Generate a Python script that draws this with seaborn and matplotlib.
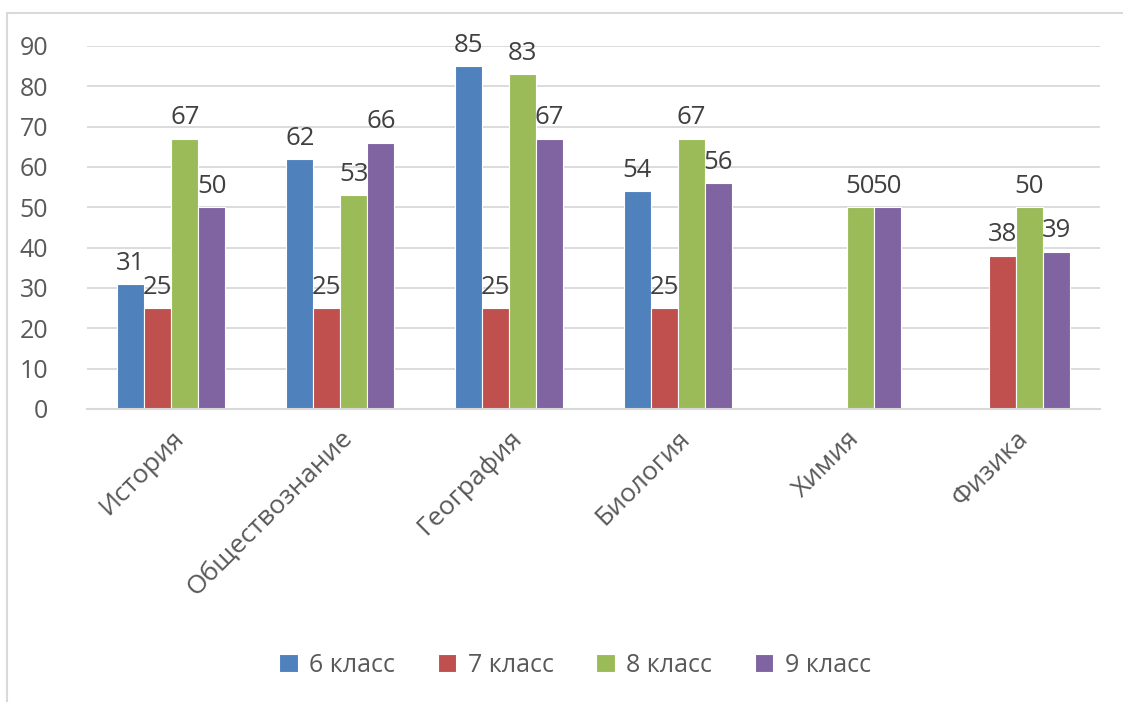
import numpy as np
import pandas as pd
import seaborn as sns
import matplotlib.pyplot as plt
from matplotlib.patches import Rectangle

subjects = ['История', 'Обществознание', 'География', 'Биология', 'Химия', 'Физика']
grades = ['6 класс', '7 класс', '8 класс', '9 класс']
grade6 = [31, 62, 85, 54, np.nan, np.nan]
grade7 = [25, 25, 25, 25, np.nan, 38]
grade8 = [67, 53, 83, 67, 50, 50]
grade9 = [50, 66, 67, 56, 50, 39]
colors = ['#4F81BD', '#C0504D', '#9BBB59', '#8064A2']

df = pd.DataFrame({'subject': subjects * 4,
                   'grade': np.repeat(grades, len(subjects)),
                   'value': grade6 + grade7 + grade8 + grade9})

sns.set_style('white')
plt.rcParams['font.family'] = ['Open Sans', 'DejaVu Sans']
text_color = '#595959'

fig = plt.figure(figsize=(11.23, 7.02), dpi=100)
ax = fig.add_axes([87 / 1123, 1 - 409 / 702, 1013 / 1123, 363 / 702])

sns.barplot(data=df, x='subject', y='value', hue='grade', order=subjects,
            hue_order=grades, palette=colors, width=0.64, saturation=1,
            edgecolor='white', linewidth=0.8, ax=ax)

for cont in ax.containers:
    ax.bar_label(cont, fmt='%g', padding=6, fontsize=18.5, color='#404040')

ax.set_ylim(0, 90)
ax.set_yticks(range(0, 91, 10))
ax.set_xlim(-0.5, len(subjects) - 0.5)
ax.yaxis.grid(True, color='#D9D9D9', linewidth=1.3)
ax.set_axisbelow(True)
for s in ['top', 'right', 'left']:
    ax.spines[s].set_visible(False)
ax.spines['bottom'].set_color('#D9D9D9')
ax.spines['bottom'].set_linewidth(1.5)
ax.set_xlabel('')
ax.set_ylabel('')
ax.tick_params(axis='y', labelsize=18, colors=text_color, length=0, pad=28)
ax.tick_params(axis='x', labelsize=19, colors=text_color, length=0, pad=12)
plt.setp(ax.get_xticklabels(), rotation=45, ha='right', rotation_mode='anchor')

ax.legend(loc='center', bbox_to_anchor=(575 / 1123, 37 / 702),
          bbox_transform=fig.transFigure, ncol=4, frameon=False,
          fontsize=18, labelcolor=text_color, handlelength=0.75,
          handleheight=0.75, handletextpad=0.45, columnspacing=1.7)

fig.patches.append(Rectangle((7 / 1123, -0.01), 1.02, 1 - 13 / 702 + 0.01,
                             transform=fig.transFigure, fill=False,
                             edgecolor='#D9D9D9', linewidth=1.5))

fig.savefig('out.png', dpi=100)
